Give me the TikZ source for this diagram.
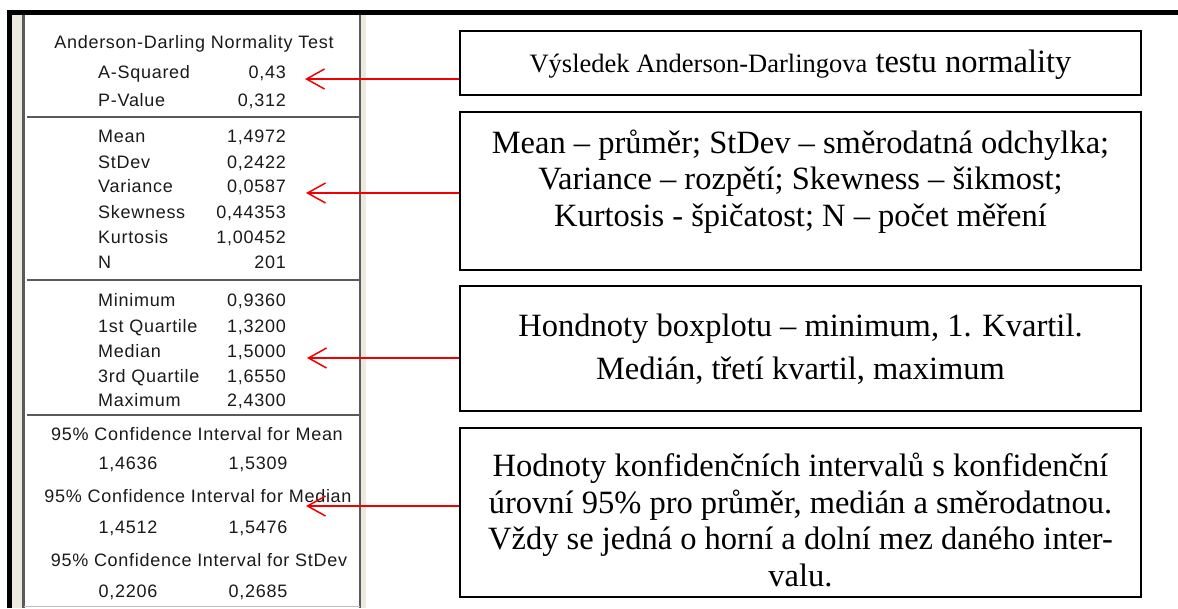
\documentclass[tikz,border=0pt]{standalone}
\usepackage{fontspec}
\setmainfont{Liberation Serif}
\newfontfamily\panelfont[LetterSpace=4]{Liberation Sans}
\usetikzlibrary{arrows.meta}

\definecolor{framebeige}{HTML}{EEE9DF}
\definecolor{panelgrey}{HTML}{5A5A5A}
\definecolor{paneltext}{HTML}{1A1A1A}
\definecolor{arrowred}{HTML}{F00000}

\tikzset{
  lbl/.style={anchor=base west, inner sep=0pt, font=\panelfont\fontsize{18}{20}\selectfont, text=paneltext},
  val/.style={anchor=base east, inner sep=0pt, font=\panelfont\fontsize{18}{20}\selectfont, text=paneltext},
  hdr/.style={anchor=base, inner sep=0pt, font=\panelfont\fontsize{18}{20}\selectfont, text=paneltext},
  divider/.style={draw=panelgrey, line width=2pt},
  notebox/.style={draw=black, line width=1.3pt, minimum width=681pt, inner sep=0pt},
  notetext/.style={align=center, inner sep=0pt, font=\fontsize{32.5}{36.5}\selectfont},
  pointer/.style={draw=arrowred, line width=1.5pt, -{Straight Barb[length=18pt,width=20pt,line width=1.5pt]}},
}

\begin{document}
\begin{tikzpicture}[x=1pt,y=-1pt]
\useasboundingbox (0,0) rectangle (1178,608);
\fill[white] (0,0) rectangle (1178,608);

% window chrome around the statistics panel
\fill[framebeige] (12,15) rectangle (24,608);
\fill[framebeige] (360,15) rectangle (366,608);
\fill[white] (24,15) rectangle (360,608);
\draw[panelgrey, line width=2.5pt] (23.5,15) -- (23.5,608);
\draw[panelgrey, line width=2pt] (360,15) -- (360,608);
\draw[black!25, line width=1pt] (24,606) -- (360,606);
\draw[black, line width=5pt] (9.5,608) -- (9.5,12.5) -- (1178,12.5);

% section dividers
\draw[divider] (27,117) -- (360,117);
\draw[divider] (27,280) -- (360,280);
\draw[divider] (27,415) -- (360,415);

% Anderson-Darling section
\node[hdr] (h1) at (194,48) {Anderson-Darling Normality Test};
\node[lbl] (l1) at (98,78) {A-Squared};   \node[val] (v1) at (286,78) {0,43};
\node[lbl] (l2) at (98,106) {P-Value};    \node[val] (v2) at (286,106) {0,312};

% descriptive statistics
\node[lbl] (l3) at (98,142) {Mean};       \node[val] (v3) at (286,142) {1,4972};
\node[lbl] (l4) at (98,168) {StDev};      \node[val] (v4) at (286,168) {0,2422};
\node[lbl] (l5) at (98,192) {Variance};   \node[val] (v5) at (286,192) {0,0587};
\node[lbl] (l6) at (98,218) {Skewness};   \node[val] (v6) at (286,218) {0,44353};
\node[lbl] (l7) at (98,243) {Kurtosis};   \node[val] (v7) at (286,243) {1,00452};
\node[lbl] (l8) at (98,268) {N};          \node[val] (v8) at (286,268) {201};

% five-number summary
\node[lbl] (l9) at (98,306) {Minimum};       \node[val] (v9) at (286,306) {0,9360};
\node[lbl] (l10) at (98,332) {1st Quartile}; \node[val] (v10) at (286,332) {1,3200};
\node[lbl] (l11) at (98,357) {Median};       \node[val] (v11) at (286,357) {1,5000};
\node[lbl] (l12) at (98,382) {3rd Quartile}; \node[val] (v12) at (286,382) {1,6550};
\node[lbl] (l13) at (98,406) {Maximum};      \node[val] (v13) at (286,406) {2,4300};

% confidence intervals
\node[hdr] (h2) at (197,440) {95\% Confidence Interval for Mean};
\node[hdr] (c1a) at (128,469) {1,4636}; \node[hdr] (c1b) at (258,469) {1,5309};
\node[hdr] (h3) at (198,502) {95\% Confidence Interval for Median};
\node[hdr] (c2a) at (128,533) {1,4512}; \node[hdr] (c2b) at (258,533) {1,5476};
\node[hdr] (h4) at (199,566) {95\% Confidence Interval for StDev};
\node[hdr] (c3a) at (128,597) {0,2206}; \node[hdr] (c3b) at (258,597) {0,2685};

% explanation boxes
\node[notebox, minimum height=64pt] (b1) at (800.5,63) {};
\node[notetext] (t1) at (800.5,64.5) {{\fontsize{26.5}{30}\selectfont Výsledek Anderson-Darlingova} testu normality};

\node[notebox, minimum height=158pt] (b2) at (800.5,191) {};
\node[notetext] (t2) at (800.5,181.5) {Mean – průměr; StDev – směrodatná odchylka;\\
Variance – rozpětí; Skewness – šikmost;\\
Kurtosis - špičatost; N – počet měření};

\node[notebox, minimum height=125pt] (b3) at (800.5,348.5) {};
\node[notetext] (t3) at (800.5,349) {Hondnoty boxplotu – minimum, 1. Kvartil.\\[6pt]
Medián, třetí kvartil, maximum};

\node[notebox, minimum height=169pt] (b4) at (800.5,512.5) {};
\node[notetext] (t4) at (800.5,520) {Hodnoty konfidenčních intervalů s konfidenční\\
úrovní 95\% pro průměr, medián a směrodatnou.\\
Vždy se jedná o horní a dolní mez daného inter-\\
valu.};

% pointers from the boxes to the panel rows
\coordinate (p1) at (305,79);
\coordinate (p2) at (306,193);
\coordinate (p3) at (307,358);
\coordinate (p4) at (306,506);
\draw[pointer] (b1.west |- p1) -- (p1);
\draw[pointer] (b2.west |- p2) -- (p2);
\draw[pointer] (b3.west |- p3) -- (p3);
\draw[pointer] (b4.west |- p4) -- (p4);
\end{tikzpicture}
\end{document}
